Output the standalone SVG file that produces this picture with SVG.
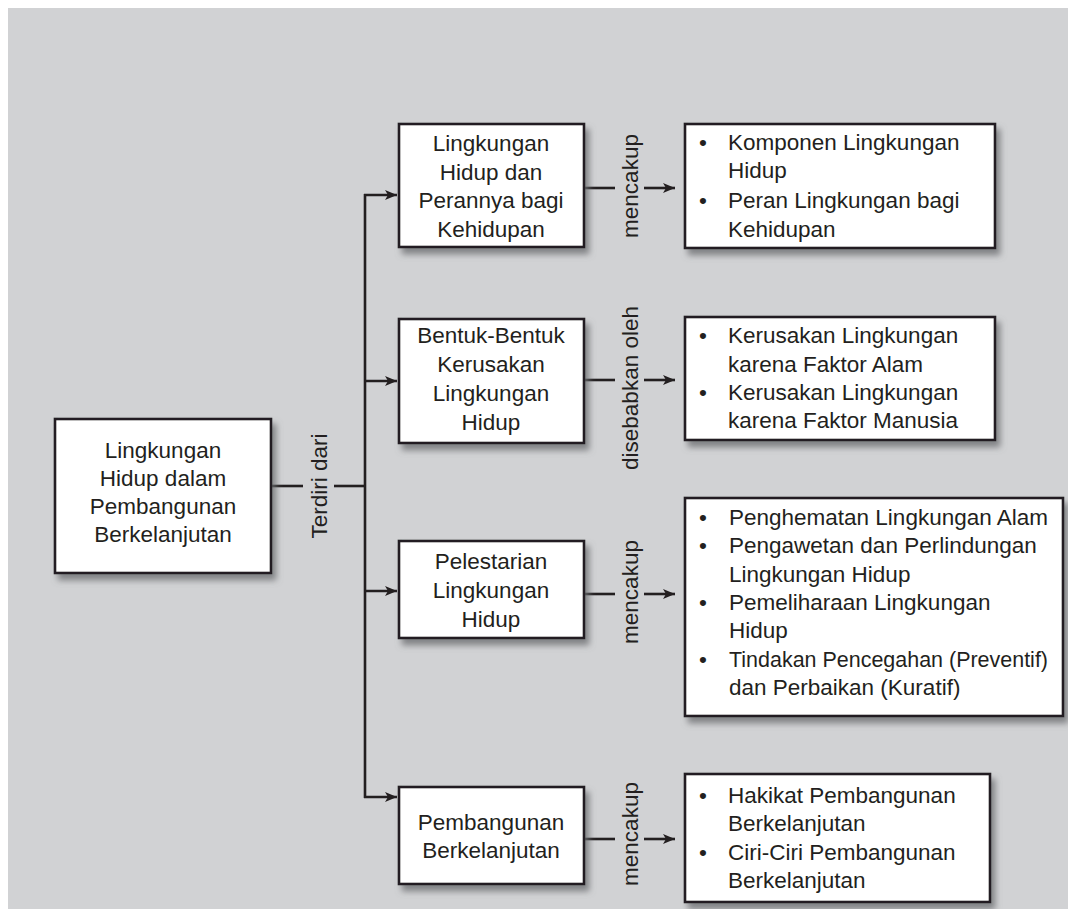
<svg xmlns="http://www.w3.org/2000/svg" width="1068" height="909" viewBox="0 0 1068 909">
<defs>
<filter id="sh" x="-10%" y="-10%" width="130%" height="140%">
<feDropShadow dx="4" dy="6" stdDeviation="3" flood-color="#6d6e71" flood-opacity="0.8"/>
</filter>
<marker id="ar" viewBox="0 0 12 10" refX="12" refY="5" markerWidth="12" markerHeight="10" markerUnits="userSpaceOnUse" orient="auto">
<path d="M0,0 L12,5 L0,10 L3,5 Z" fill="#231f20"/>
</marker>
</defs>
<style>
.box{fill:#ffffff;stroke:#231f20;stroke-width:2.6;filter:url(#sh)}
.t{font-family:"Liberation Sans",Arial,sans-serif;font-size:22.5px;fill:#231f20}
.c{text-anchor:middle}
.ln{fill:none;stroke:#231f20;stroke-width:2.6}
.arr{fill:none;stroke:#231f20;stroke-width:2.6;marker-end:url(#ar)}
</style>
<rect x="0" y="0" width="1068" height="909" fill="#ffffff"/>
<rect x="8" y="8" width="1060" height="901" fill="#d1d2d4"/>

<g id="connectors">
<line class="ln" x1="271" y1="486" x2="303" y2="486"/>
<line class="ln" x1="334" y1="486" x2="366" y2="486"/>
<line class="ln" x1="365" y1="194" x2="365" y2="798"/>
<line class="arr" x1="364" y1="195" x2="397" y2="195"/>
<line class="arr" x1="364" y1="381" x2="397" y2="381"/>
<line class="arr" x1="364" y1="591" x2="397" y2="591"/>
<line class="arr" x1="364" y1="797" x2="397" y2="797"/>
<line class="ln" x1="584" y1="188" x2="615" y2="188"/>
<line class="arr" x1="644" y1="188" x2="675" y2="188"/>
<line class="ln" x1="584" y1="380" x2="615" y2="380"/>
<line class="arr" x1="644" y1="380" x2="675" y2="380"/>
<line class="ln" x1="584" y1="594" x2="615" y2="594"/>
<line class="arr" x1="644" y1="594" x2="675" y2="594"/>
<line class="ln" x1="584" y1="839" x2="615" y2="839"/>
<line class="arr" x1="644" y1="839" x2="675" y2="839"/>
<text class="t c" transform="translate(327,486) rotate(-90)">Terdiri dari</text>
<text class="t c" transform="translate(638,186) rotate(-90)">mencakup</text>
<text class="t c" transform="translate(638,388) rotate(-90)">disebabkan oleh</text>
<text class="t c" transform="translate(638,592) rotate(-90)">mencakup</text>
<text class="t c" transform="translate(638,834) rotate(-90)">mencakup</text>
</g>

<g id="main">
<rect class="box" x="55" y="419" width="216" height="154"/>
<text class="t c" x="163" y="458">Lingkungan</text>
<text class="t c" x="163" y="486">Hidup dalam</text>
<text class="t c" x="163" y="514">Pembangunan</text>
<text class="t c" x="163" y="542">Berkelanjutan</text>
</g>

<g id="n1">
<rect class="box" x="399" y="124" width="185" height="123"/>
<text class="t c" x="491" y="151">Lingkungan</text>
<text class="t c" x="491" y="180">Hidup dan</text>
<text class="t c" x="491" y="208">Perannya bagi</text>
<text class="t c" x="491" y="237">Kehidupan</text>
</g>

<g id="n2">
<rect class="box" x="399" y="319" width="185" height="124"/>
<text class="t c" x="491" y="343">Bentuk-Bentuk</text>
<text class="t c" x="491" y="372">Kerusakan</text>
<text class="t c" x="491" y="401">Lingkungan</text>
<text class="t c" x="491" y="430">Hidup</text>
</g>

<g id="n3">
<rect class="box" x="399" y="541" width="185" height="97"/>
<text class="t c" x="491" y="569">Pelestarian</text>
<text class="t c" x="491" y="598">Lingkungan</text>
<text class="t c" x="491" y="627">Hidup</text>
</g>

<g id="n4">
<rect class="box" x="399" y="787" width="185" height="97"/>
<text class="t c" x="491" y="830">Pembangunan</text>
<text class="t c" x="491" y="858">Berkelanjutan</text>
</g>

<g id="r1">
<rect class="box" x="685" y="124" width="310" height="124"/>
<text class="t" x="699" y="150">•</text>
<text class="t" x="728" y="150">Komponen Lingkungan</text>
<text class="t" x="728" y="178">Hidup</text>
<text class="t" x="699" y="208">•</text>
<text class="t" x="728" y="208">Peran Lingkungan bagi</text>
<text class="t" x="728" y="237">Kehidupan</text>
</g>

<g id="r2">
<rect class="box" x="685" y="317" width="310" height="123"/>
<text class="t" x="699" y="343">•</text>
<text class="t" x="728" y="343">Kerusakan Lingkungan</text>
<text class="t" x="728" y="372">karena Faktor Alam</text>
<text class="t" x="699" y="400">•</text>
<text class="t" x="728" y="400">Kerusakan Lingkungan</text>
<text class="t" x="728" y="428">karena Faktor Manusia</text>
</g>

<g id="r3">
<rect class="box" x="685" y="498" width="378" height="218"/>
<text class="t" x="699" y="525">•</text>
<text class="t" x="729" y="525">Penghematan Lingkungan Alam</text>
<text class="t" x="699" y="553">•</text>
<text class="t" x="729" y="553">Pengawetan dan Perlindungan</text>
<text class="t" x="729" y="582">Lingkungan Hidup</text>
<text class="t" x="699" y="610">•</text>
<text class="t" x="729" y="610">Pemeliharaan Lingkungan</text>
<text class="t" x="729" y="638">Hidup</text>
<text class="t" x="699" y="667">•</text>
<text class="t" x="729" y="667" textLength="319" lengthAdjust="spacingAndGlyphs">Tindakan Pencegahan (Preventif)</text>
<text class="t" x="729" y="695">dan Perbaikan (Kuratif)</text>
</g>

<g id="r4">
<rect class="box" x="685" y="774" width="305" height="128"/>
<text class="t" x="699" y="803">•</text>
<text class="t" x="728" y="803">Hakikat Pembangunan</text>
<text class="t" x="728" y="831">Berkelanjutan</text>
<text class="t" x="699" y="860">•</text>
<text class="t" x="728" y="860">Ciri-Ciri Pembangunan</text>
<text class="t" x="728" y="888">Berkelanjutan</text>
</g>
</svg>
